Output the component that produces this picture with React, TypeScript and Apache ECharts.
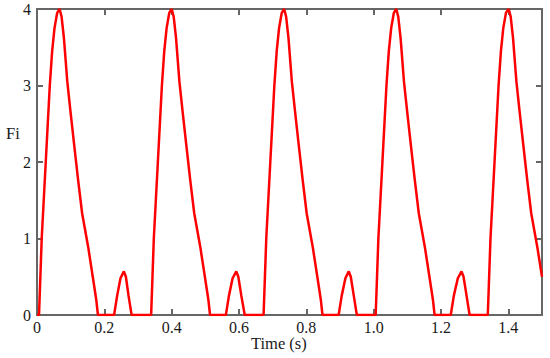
import React, { useEffect, useRef } from "react";
import * as echarts from "echarts";

const xTicks = [0, 0.2, 0.4, 0.6, 0.8, 1.0, 1.2, 1.4];
const yTicks = [0, 1, 2, 3, 4];

const cycle1: [number, number][] = [
  [0, 0], [0.006, 0], [0.010, 0.5], [0.014, 1.0], [0.020, 1.5], [0.026, 2.0], [0.032, 2.5], [0.038, 3.0],
  [0.045, 3.45], [0.052, 3.75], [0.060, 3.95], [0.067, 4.0], [0.073, 3.9], [0.080, 3.62], [0.090, 3.05],
  [0.100, 2.64], [0.110, 2.24], [0.122, 1.77], [0.134, 1.33], [0.152, 0.89], [0.167, 0.46], [0.176, 0.2],
  [0.181, 0], [0.229, 0], [0.238, 0.25], [0.248, 0.48], [0.258, 0.57], [0.264, 0.5], [0.272, 0.25], [0.281, 0],
];
const cycle2: [number, number][] = [
  [0.333, 0], [0.339, 0], [0.343, 0.5], [0.347, 1.0], [0.353, 1.5], [0.359, 2.0], [0.365, 2.5], [0.371, 3.0],
  [0.378, 3.45], [0.385, 3.75], [0.393, 3.95], [0.400, 4.0], [0.406, 3.9], [0.413, 3.62], [0.423, 3.05],
  [0.433, 2.64], [0.443, 2.24], [0.455, 1.77], [0.467, 1.33], [0.485, 0.89], [0.500, 0.46], [0.509, 0.2],
  [0.514, 0], [0.561, 0], [0.570, 0.25], [0.581, 0.48], [0.592, 0.57], [0.598, 0.5], [0.607, 0.25], [0.617, 0],
];
const cycle3: [number, number][] = [
  [0.667, 0], [0.673, 0], [0.677, 0.5], [0.681, 1.0], [0.687, 1.5], [0.693, 2.0], [0.699, 2.5], [0.705, 3.0],
  [0.712, 3.45], [0.719, 3.75], [0.727, 3.95], [0.734, 4.0], [0.740, 3.9], [0.747, 3.62], [0.757, 3.05],
  [0.767, 2.64], [0.777, 2.24], [0.789, 1.77], [0.801, 1.33], [0.819, 0.89], [0.834, 0.46], [0.843, 0.2],
  [0.848, 0], [0.896, 0], [0.905, 0.25], [0.916, 0.48], [0.926, 0.57], [0.932, 0.5], [0.941, 0.25], [0.950, 0],
];
const cycle4: [number, number][] = [
  [1.000, 0], [1.006, 0], [1.010, 0.5], [1.014, 1.0], [1.020, 1.5], [1.026, 2.0], [1.032, 2.5], [1.038, 3.0],
  [1.045, 3.45], [1.052, 3.75], [1.060, 3.95], [1.067, 4.0], [1.073, 3.9], [1.080, 3.62], [1.090, 3.05],
  [1.100, 2.64], [1.110, 2.24], [1.122, 1.77], [1.134, 1.33], [1.152, 0.89], [1.167, 0.46], [1.176, 0.2],
  [1.181, 0], [1.229, 0], [1.238, 0.25], [1.250, 0.48], [1.261, 0.57], [1.267, 0.5], [1.276, 0.25], [1.285, 0],
];
const cycle5: [number, number][] = [
  [1.339, 0], [1.343, 0.5], [1.347, 1.0], [1.353, 1.5], [1.359, 2.0], [1.365, 2.5], [1.371, 3.0],
  [1.378, 3.45], [1.385, 3.75], [1.393, 3.95], [1.401, 4.0], [1.407, 3.9], [1.414, 3.62], [1.424, 3.05],
  [1.434, 2.64], [1.444, 2.24], [1.456, 1.77], [1.468, 1.33], [1.486, 0.89], [1.500, 0.5],
];

const FONT = "'Liberation Serif', 'Times New Roman', serif";
const AXIS_COLOR = "#666666";

export default function App() {
  const ref = useRef<HTMLDivElement>(null);
  useEffect(() => {
    if (!ref.current) return;
    const chart = echarts.init(ref.current, undefined, { renderer: "svg" });
    const data = [...cycle1, ...cycle2, ...cycle3, ...cycle4, ...cycle5];
    const axisCommon = {
      axisLine: { show: true, onZero: false, lineStyle: { color: AXIS_COLOR, width: 2 } },
      axisTick: { show: true, inside: true, length: 6, lineStyle: { color: AXIS_COLOR, width: 2 } },
      splitLine: { show: false },
    };
    chart.setOption({
      animation: false,
      backgroundColor: "#ffffff",
      grid: { left: 37, right: 8, top: 9, bottom: 43, containLabel: false },
      xAxis: [
        {
          type: "value",
          min: 0,
          max: 1.5,
          interval: xTicks[1] - xTicks[0],
          position: "bottom",
          ...axisCommon,
          axisLabel: {
            show: true,
            showMaxLabel: false,
            margin: 4,
            color: "#1a1a1a",
            fontFamily: FONT,
            fontSize: 16,
            formatter: (v: number) => (v === 0 ? "0" : v.toFixed(1)),
          },
        },
        {
          type: "value",
          min: 0,
          max: 1.5,
          interval: xTicks[1] - xTicks[0],
          position: "top",
          ...axisCommon,
          axisLabel: { show: false },
        },
      ],
      yAxis: [
        {
          type: "value",
          min: 0,
          max: 4,
          interval: yTicks[1] - yTicks[0],
          position: "left",
          ...axisCommon,
          axisLabel: { show: true, margin: 6, color: "#1a1a1a", fontFamily: FONT, fontSize: 16 },
        },
        {
          type: "value",
          min: 0,
          max: 4,
          interval: yTicks[1] - yTicks[0],
          position: "right",
          ...axisCommon,
          axisLabel: { show: false },
        },
      ],
      graphic: [
        {
          type: "text",
          left: 251,
          top: 335,
          style: { text: "Time (s)", font: `16.5px ${FONT}`, fill: "#1a1a1a" },
        },
        {
          type: "text",
          left: 6,
          top: 125,
          style: { text: "Fi", font: `16.5px ${FONT}`, fill: "#1a1a1a" },
        },
      ],
      series: [
        {
          type: "line",
          xAxisIndex: 0,
          yAxisIndex: 0,
          data,
          showSymbol: false,
          symbol: "none",
          lineStyle: { color: "#ff0000", width: 2.5 },
          clip: true,
          z: 1,
        },
      ],
    });
    return () => chart.dispose();
  }, []);
  return <div ref={ref} style={{ width: 550, height: 358, position: "absolute", left: 0, top: 0 }} />;
}
